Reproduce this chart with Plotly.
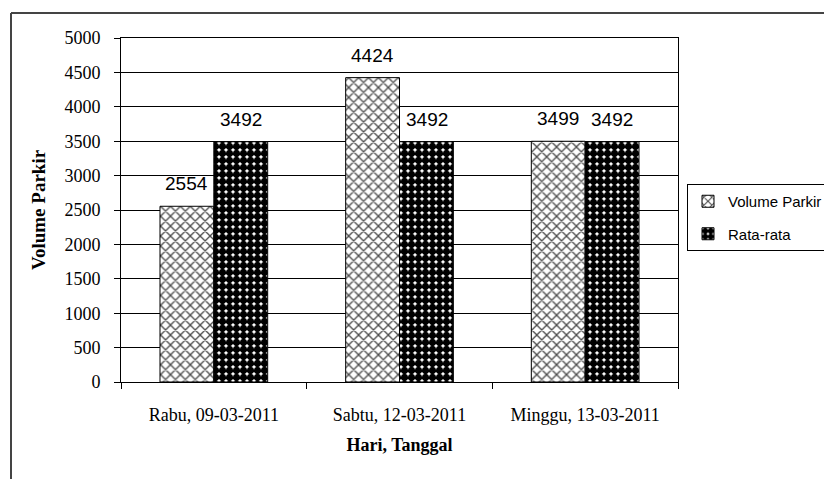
import plotly.graph_objects as go

# Parking volume per survey day vs. the overall average
days = ["Rabu, 09-03-2011", "Sabtu, 12-03-2011", "Minggu, 13-03-2011"]
volume_parkir = [2554, 4424, 3499]
rata_rata = [3492, 3492, 3492]
y_ticks = [0, 500, 1000, 1500, 2000, 2500, 3000, 3500, 4000, 4500, 5000]

W, H = 824, 479
L, R, T, B = 121, 678, 38, 382  # plot area in pixels

serif = "Liberation Serif, Times New Roman, serif"
sans = "Liberation Sans, Arial, sans-serif"

fig = go.Figure()
fig.add_trace(go.Bar(
    name="Volume Parkir", x=days, y=volume_parkir, legendgroup="vol",
    marker=dict(
        color="white",
        line=dict(color="black", width=1),
        pattern=dict(shape="x", fgcolor="#4d4d4d", bgcolor="white",
                     size=7, solidity=0.35, fillmode="replace"),
    ),
))
fig.add_trace(go.Bar(
    name="Rata-rata", x=days, y=rata_rata, legendgroup="avg",
    marker=dict(
        color="white",
        line=dict(color="black", width=1),
        pattern=dict(shape=".", fgcolor="black", bgcolor="white",
                     size=7, solidity=0.8, fillmode="replace"),
    ),
))

# Value labels above each bar (half a bar width left/right of the category centre)
half_bar = 27
for vals, shift in ((volume_parkir, -half_bar), (rata_rata, half_bar)):
    for d, v in zip(days, vals):
        fig.add_annotation(
            x=d, y=v, text=str(v), showarrow=False,
            xshift=shift, yshift=10, yanchor="bottom",
            font=dict(family=sans, size=19, color="black"),
        )

def px(x):
    return (x - L) / (R - L)

def py(y):
    return (B - y) / (B - T)

# Outer chart frame (left and top edges)
fig.add_shape(type="line", xref="paper", yref="paper",
              x0=px(11), y0=py(479), x1=px(11), y1=py(13),
              line=dict(color="#444444", width=2))
fig.add_shape(type="line", xref="paper", yref="paper",
              x0=px(11), y0=py(13), x1=px(824), y1=py(13),
              line=dict(color="#444444", width=2))

fig.update_layout(
    width=W, height=H,
    margin=dict(l=L, r=W - R, t=T, b=H - B, autoexpand=False),
    paper_bgcolor="white", plot_bgcolor="white",
    barmode="group", bargap=0.42, bargroupgap=0,
    font=dict(family=serif, size=18, color="black"),
    showlegend=True,
    legend=dict(
        x=px(687), y=py(184), xanchor="left", yanchor="top",
        bordercolor="black", borderwidth=1, bgcolor="white",
        font=dict(family=sans, size=15, color="black"),
        itemwidth=30, tracegroupgap=10,
    ),
    xaxis=dict(
        title=dict(text="<b>Hari, Tanggal</b>", font=dict(family=serif, size=18), standoff=14),
        tickfont=dict(family=serif, size=18),
        ticklabelstandoff=16,
        showline=True, linecolor="black", linewidth=1, mirror=True,
        ticks="outside", ticklen=6, tickcolor="black", tickson="boundaries",
        showgrid=False,
    ),
    yaxis=dict(
        title=dict(text="<b>Volume Parkir</b>", font=dict(family=serif, size=19), standoff=13),
        tickfont=dict(family=serif, size=18),
        ticklabelstandoff=10,
        range=[0, 5000], tickvals=y_ticks, ticktext=[str(v) for v in y_ticks],
        showline=True, linecolor="black", linewidth=1, mirror=True,
        ticks="outside", ticklen=6, tickcolor="black",
        showgrid=True, gridcolor="black", gridwidth=1,
        zeroline=False,
    ),
)

fig.write_html("out.html")
